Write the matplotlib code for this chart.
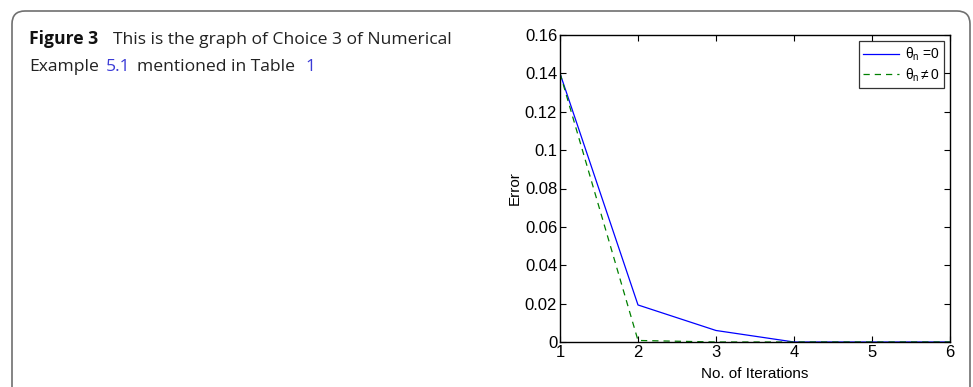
import matplotlib
matplotlib.use("Agg")
import matplotlib.pyplot as plt
from matplotlib.patches import FancyBboxPatch

# data
iterations = [1, 2, 3, 4, 5, 6]
err_theta0 = [0.140, 0.0193, 0.0060, 0.0, 0.0, 0.0]
err_theta_nz = [0.140, 0.0008, 0.0, 0.0, 0.0, 0.0]
yticks = [0, 0.02, 0.04, 0.06, 0.08, 0.1, 0.12, 0.14, 0.16]
yticklabels = ["0", "0.02", "0.04", "0.06", "0.08", "0.1", "0.12", "0.14", "0.16"]

plt.rcParams['font.family'] = ['Liberation Sans', 'DejaVu Sans']
plt.rcParams['mathtext.fontset'] = 'custom'
plt.rcParams['mathtext.rm'] = 'Liberation Sans'
plt.rcParams['mathtext.it'] = 'Liberation Sans'

W, H = 973, 387
fig = plt.figure(figsize=(W / 100, H / 100), dpi=100)

# rounded frame around the figure panel (bottom runs off the page)
frame = FancyBboxPatch((0.12, -0.5), 9.58, (H - 11) / 100 + 0.5,
                       boxstyle="round,pad=0,rounding_size=0.13",
                       transform=fig.dpi_scale_trans, fill=False,
                       edgecolor='#707070', linewidth=1.2)
fig.patches.append(frame)

# caption, pieces placed where they sit in the original
cap = dict(family='Open Sans', fontsize=12.6, va='baseline')
dark = '#222222'
link = '#3b3bd6'
fig.text(29 / W, 1 - 44 / H, "Figure 3", fontweight='bold', color='#111111', **cap)
fig.text(113 / W, 1 - 44 / H, "This is the graph of Choice 3 of Numerical", color=dark, **cap)
fig.text(29 / W, 1 - 71 / H, "Example", color=dark, **cap)
fig.text(106 / W, 1 - 71 / H, "5.1", color=link, **cap)
fig.text(137 / W, 1 - 71 / H, "mentioned in Table", color=dark, **cap)
fig.text(305 / W, 1 - 71 / H, "1", color=link, **cap)

ax = fig.add_axes([560 / W, 1 - 342 / H, (950 - 560) / W, (342 - 35) / H])
ax.plot(iterations, err_theta0, color='#0000ff', linewidth=0.9, label=r'$\theta_n$ =0')
ax.plot(iterations, err_theta_nz, color='#008000', linewidth=0.9, linestyle=(0, (5, 4)),
        label=r'$\theta_n\neq$0')
ax.set_xlim(1, 6)
ax.set_ylim(0, 0.16)
ax.set_xticks(iterations)
ax.set_yticks(yticks)
ax.set_yticklabels(yticklabels)
ax.tick_params(direction='in', length=4, width=0.8, labelsize=12, top=True, right=True,
               pad=2)
for s in ax.spines.values():
    s.set_linewidth(1.0)
ax.set_xlabel("No. of Iterations", fontsize=11, labelpad=5)
ax.set_ylabel("Error", fontsize=11, labelpad=2)

leg = ax.legend(loc='upper right', fontsize=10, frameon=True, fancybox=False,
                edgecolor='black', handlelength=2.6, borderaxespad=0.45,
                handletextpad=0.4, labelspacing=0.25, borderpad=0.3)
leg.get_frame().set_linewidth(0.9)

fig.savefig("out.png", dpi=100)
